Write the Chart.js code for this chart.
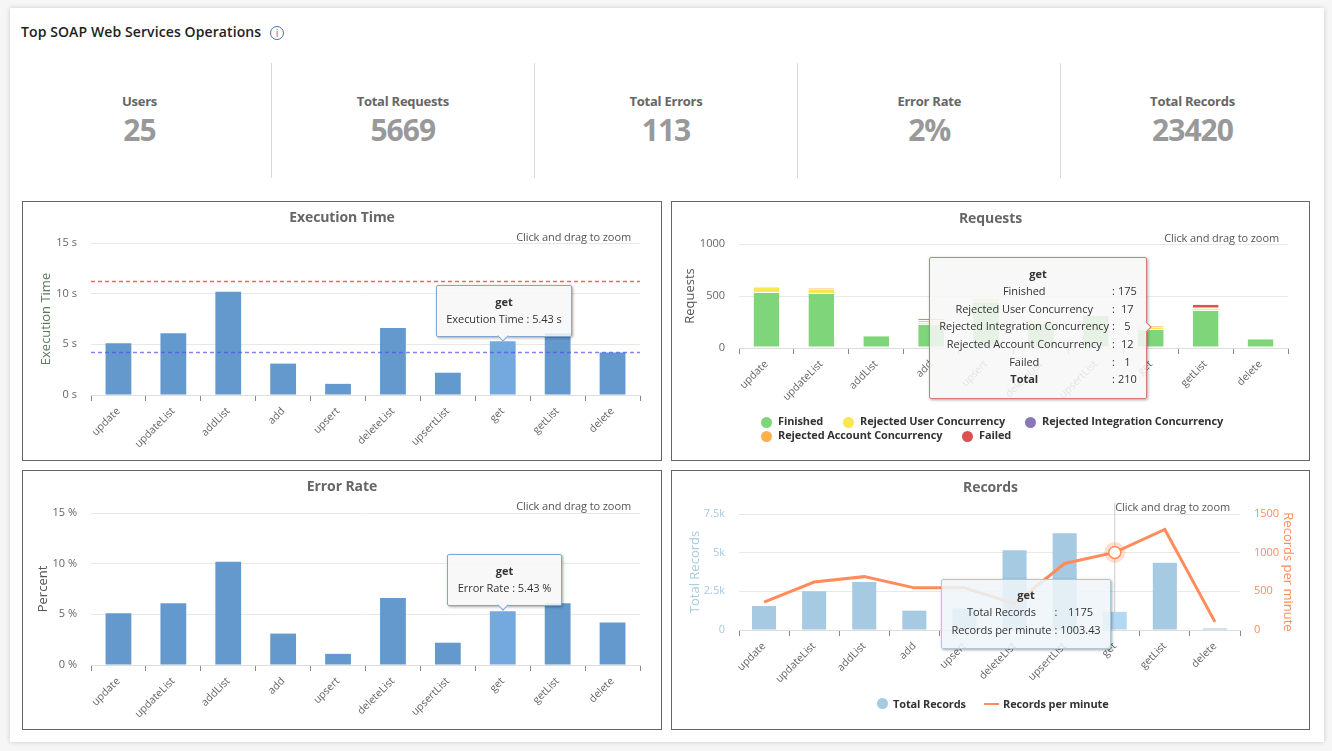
<!DOCTYPE html>
<html>
<head>
<meta charset="utf-8">
<title>Top SOAP Web Services Operations</title>
<script src="https://cdn.jsdelivr.net/npm/chart.js@4/dist/chart.umd.min.js"></script>
<style>
  html, body { margin: 0; padding: 0; background: #f6f6f6; font-family: "Open Sans", sans-serif; overflow: hidden; }
  #card { position: absolute; left: 10px; top: 8px; width: 1314px; height: 734px; background: #fff; box-shadow: 0 0 5px rgba(0,0,0,.18); }
  #heading { position: absolute; left: 21px; top: 22px; font-size: 14px; font-weight: 600; color: #222; letter-spacing: .1px; }
  #info { position: absolute; left: 270px; top: 26px; width: 12px; height: 12px; border: 1px solid #4a6fa5; border-radius: 50%; font-size: 10px; line-height: 12px; text-align: center; color: #4a6fa5; }
  .stat { position: absolute; top: 92px; width: 263px; text-align: center; }
  .stat .name { font-size: 13px; font-weight: 700; color: #666; line-height: 18px; letter-spacing: -.25px; }
  .stat .val { font-size: 30px; font-weight: 700; color: #999; line-height: 40px; letter-spacing: -1px; }
  .divider { position: absolute; top: 63px; width: 1px; height: 115px; background: #d8d8d8; }
  .panel { position: absolute; width: 638px; height: 258px; border: 1px solid #666; background: #fff; }
  .panel.right { width: 637px; }
  .panel canvas { position: absolute; left: -1px; top: -1px; }
  .ptitle { position: absolute; left: 0; right: 0; top: 5px; text-align: center; font-size: 14px; font-weight: 700; color: #666; letter-spacing: -.1px; }
  .hint { position: absolute; font-size: 11px; color: #555; white-space: nowrap; letter-spacing: -.1px; }
  .tip { position: absolute; background: rgba(247,247,247,.86); border: 1px solid #7fa8d0; border-radius: 2px; box-shadow: 1px 1px 3px rgba(0,0,0,.35); font-size: 11px; color: #333; text-align: center; z-index: 5; box-sizing: border-box; letter-spacing: -.05px; }
  .tip b { display: block; font-weight: 700; }
  .tip table { border-collapse: collapse; margin: 0 auto; }
  .tip td { padding: 0; height: 17.6px; white-space: nowrap; }
  .arrow { position: absolute; width: 7px; height: 7px; background: #f7f7f7; transform: rotate(45deg); }
  .legend { position: absolute; font-size: 11px; font-weight: 700; color: #333; white-space: nowrap; letter-spacing: -.12px; }
  .legend span.item { position: absolute; }
  .legend i { position: absolute; width: 11px; height: 11px; border-radius: 50%; }
  .legend i.dash { height: 2px; width: 15px; border-radius: 0; }
</style>
</head>
<body>
<div id="card"></div>
<div id="heading">Top SOAP Web Services Operations</div>
<div id="info">i</div>
<div id="stats"></div>

<div class="panel" style="left:22px;top:201px">
  <canvas id="execChart" width="640" height="260"></canvas>
  <div class="ptitle">Execution Time</div>
  <div class="hint" style="right:30px;top:27px">Click and drag to zoom</div>
  <div class="tip" id="execTip" style="left:413px;top:83px;width:136px;height:52px;padding-top:8px"></div>
</div>
<div class="panel right" style="left:671px;top:201px">
  <canvas id="reqChart" width="639" height="260"></canvas>
  <div class="ptitle" style="top:6px">Requests</div>
  <div class="hint" style="right:30px;top:28px">Click and drag to zoom</div>
  <div class="tip" id="reqTip" style="left:257px;top:55px;width:218px;height:142px;padding-top:8px;border-color:#d87878"></div>
  <div class="legend" id="reqLegend" style="left:0;top:0"></div>
</div>
<div class="panel" style="left:22px;top:470px">
  <canvas id="errChart" width="640" height="260"></canvas>
  <div class="ptitle">Error Rate</div>
  <div class="hint" style="right:30px;top:27px">Click and drag to zoom</div>
  <div class="tip" id="errTip" style="left:424px;top:83px;width:115px;height:52px;padding-top:8px"></div>
</div>
<div class="panel right" style="left:671px;top:470px">
  <canvas id="recChart" width="639" height="260"></canvas>
  <div class="ptitle" style="top:6px">Records</div>
  <div class="hint" style="right:79px;top:28px">Click and drag to zoom</div>
  <div class="tip" id="recTip" style="left:269px;top:108px;width:170px;height:70px;padding-top:7px;border-color:#a9c9de;background:rgba(238,244,248,.86)"></div>
  <div class="legend" id="recLegend" style="left:0;top:0"></div>
</div>

<script>
const statNames = ["Users", "Total Requests", "Total Errors", "Error Rate", "Total Records"];
const statValues = ["25", "5669", "113", "2%", "23420"];

const operations = ["update", "updateList", "addList", "add", "upsert", "deleteList", "upsertList", "get", "getList", "delete"];

const execTime = [5.1, 6.1, 10.2, 3.1, 1.1, 6.6, 2.2, 5.3, 6.1, 4.2];
const execLimits = [11.2, 4.2];
const errorRate = [5.1, 6.1, 10.2, 3.1, 1.1, 6.6, 2.2, 5.3, 6.1, 4.2];

const finished = [530, 520, 112, 223, 440, 235, 310, 175, 359, 85];
const rejectedUser = [55, 45, 0, 20, 30, 23, 0, 17, 20, 0];
const rejectedIntegration = [0, 0, 0, 0, 0, 0, 0, 5, 0, 0];
const rejectedAccount = [0, 10, 0, 18, 0, 0, 0, 12, 0, 0];
const failed = [0, 0, 0, 20, 0, 0, 0, 1, 38, 0];

const totalRecords = [1550, 2500, 3100, 1250, 1400, 5150, 6250, 1175, 4350, 100];
const recordsPerMinute = [360, 620, 690, 545, 545, 340, 860, 1003.43, 1300, 105];

const hoverIndex = 7;

const BAR_BLUE = "#6499cd";
const BAR_BLUE_HOVER = "#74a9df";
const TEXT_GREY = "#666";
const TICK_FONT = { family: "Open Sans", size: 11 };
const TITLE_FONT = { family: "Open Sans", size: 13 };

// draws the dashed limits, the crosshair and the marker halo through the scales
const overlayPlugin = {
  id: "overlay",
  beforeDatasetsDraw(chart, args, opts) {
    const ctx = chart.ctx;
    const area = chart.chartArea;
    if (opts.crossIndex !== undefined) {
      const x = chart.scales.x.getPixelForValue(opts.crossIndex);
      ctx.save();
      ctx.strokeStyle = "#ccc";
      ctx.beginPath();
      ctx.moveTo(x, area.top - 11);
      ctx.lineTo(x, area.bottom);
      ctx.stroke();
      ctx.restore();
    }
  },
  afterDatasetsDraw(chart, args, opts) {
    const ctx = chart.ctx;
    const area = chart.chartArea;
    (opts.lines || []).forEach(l => {
      const y = chart.scales.y.getPixelForValue(l.value);
      ctx.save();
      ctx.strokeStyle = l.color;
      ctx.lineWidth = 1.5;
      ctx.setLineDash([4, 3]);
      ctx.beginPath();
      ctx.moveTo(area.left, y);
      ctx.lineTo(area.right, y);
      ctx.stroke();
      ctx.restore();
    });
    if (opts.crossIndex !== undefined) {
      const pt = chart.getDatasetMeta(1).data[opts.crossIndex];
      ctx.save();
      ctx.strokeStyle = "rgba(255,140,90,.28)";
      ctx.lineWidth = 4;
      ctx.beginPath();
      ctx.arc(pt.x, pt.y, 8.5, 0, Math.PI * 2);
      ctx.stroke();
      ctx.restore();
    }
  }
};

function xAxis(height) {
  return {
    offset: true,
    grid: { offset: true, drawOnChartArea: false, tickLength: 6, tickColor: "#888" },
    border: { color: "#ddd" },
    ticks: { color: TEXT_GREY, font: { family: "Open Sans", size: 10.5 }, minRotation: 45, maxRotation: 45, autoSkip: false, padding: 4 },
    afterFit(axis) { axis.height = height; }
  };
}

function yAxis(width, max, step, title, fmt, color, titleColor) {
  return {
    min: 0,
    max,
    grid: { color: "#e8e8e8", drawTicks: false },
    border: { display: false },
    ticks: { stepSize: step, color, font: TICK_FONT, padding: 14, callback: fmt },
    title: { display: true, text: title, color: titleColor, font: TITLE_FONT, padding: 0 },
    afterFit(axis) { axis.width = width; }
  };
}

function barColors() {
  return operations.map((_, i) => i === hoverIndex ? BAR_BLUE_HOVER : BAR_BLUE);
}

function singleBarChart(id, label, values, fmt, axisTitle, titleColor, top, left, lines) {
  return new Chart(document.getElementById(id), {
    type: "bar",
    data: {
      labels: operations,
      datasets: [{ label, data: values, backgroundColor: barColors(), borderWidth: 0, barPercentage: 0.47, categoryPercentage: 1 }]
    },
    options: {
      responsive: false,
      animation: false,
      layout: { padding: { left, right: 22, top, bottom: 0 } },
      plugins: { legend: { display: false }, tooltip: { enabled: false }, overlay: { lines } },
      scales: {
        x: xAxis(260 - top - 152),
        y: yAxis(69 - left, 15, 5, axisTitle, fmt, TEXT_GREY, titleColor)
      }
    },
    plugins: [overlayPlugin]
  });
}

singleBarChart("execChart", "Execution Time", execTime, v => v + " s", "Execution Time", "#5a7a5a", 42, 16, [
  { value: execLimits[0], color: "rgba(255,80,80,.9)" },
  { value: execLimits[1], color: "rgba(80,80,240,.7)" }
]);
singleBarChart("errChart", "Error Rate", errorRate, v => v + " %", "Percent", "#555", 43, 13, []);

const requestSeries = [
  { label: "Finished", data: finished, color: "#7fd67a" },
  { label: "Rejected User Concurrency", data: rejectedUser, color: "#f7e84f" },
  { label: "Rejected Integration Concurrency", data: rejectedIntegration, color: "#8878b8" },
  { label: "Rejected Account Concurrency", data: rejectedAccount, color: "#fbb04e" },
  { label: "Failed", data: failed, color: "#db5054" }
];

new Chart(document.getElementById("reqChart"), {
  type: "bar",
  data: {
    labels: operations,
    datasets: requestSeries.map(s => ({
      label: s.label, data: s.data, backgroundColor: s.color, borderColor: "#fff",
      borderWidth: { top: 0, left: 0, right: 0, bottom: 1 }, borderSkipped: false,
      barPercentage: 0.47, categoryPercentage: 1
    }))
  },
  options: {
    responsive: false,
    animation: false,
    layout: { padding: { left: 11, right: 22, top: 43, bottom: 0 } },
    plugins: { legend: { display: false }, tooltip: { enabled: false } },
    scales: {
      x: { ...xAxis(113), stacked: true },
      y: { ...yAxis(57, 1000, 500, "Requests", v => v, TEXT_GREY, "#555"), stacked: true }
    }
  }
});

const recordPoints = operations.map((_, i) => i === hoverIndex ? 6 : 0);

new Chart(document.getElementById("recChart"), {
  data: {
    labels: operations,
    datasets: [
      { type: "bar", label: "Total Records", data: totalRecords, yAxisID: "y", order: 2,
        backgroundColor: operations.map((_, i) => i === hoverIndex ? "#b3d8f2" : "#a5cae2"), barPercentage: 0.48, categoryPercentage: 1 },
      { type: "line", label: "Records per minute", data: recordsPerMinute, yAxisID: "y2", order: 1,
        borderColor: "#ff8c5a", borderWidth: 3, tension: 0, pointRadius: recordPoints,
        pointBackgroundColor: "#fff", pointBorderColor: "#ff8c5a", pointBorderWidth: 1.5 }
    ]
  },
  options: {
    responsive: false,
    animation: false,
    layout: { padding: { left: 16, right: 14, top: 44, bottom: 0 } },
    plugins: { legend: { display: false }, tooltip: { enabled: false }, overlay: { crossIndex: hoverIndex } },
    scales: {
      x: xAxis(100),
      y: yAxis(52, 7500, 2500, "Total Records", v => v === 0 ? "0" : (v / 1000) + "k", "#a5cae2", "#a5cae2"),
      y2: { ...yAxis(56, 1500, 500, "Records per minute", v => v, "#ff8c5a", "#ff8c5a"), position: "right", grid: { display: false, drawTicks: false } }
    }
  },
  plugins: [overlayPlugin]
});

// stat row
document.getElementById("stats").innerHTML = statNames.map((n, i) =>
  `<div class="stat" style="left:${8 + i * 263.25}px"><div class="name">${n}</div><div class="val">${statValues[i]}</div></div>` +
  (i ? `<div class="divider" style="left:${Math.round(8 + i * 263.1)}px"></div>` : "")
).join("");

// tooltips
function simpleTip(id, name, value, arrowLeft) {
  document.getElementById(id).innerHTML =
    `<b>${operations[hoverIndex]}</b><div style="margin-top:2px">${name} : ${value}</div>` +
    `<div class="arrow" style="left:${arrowLeft}px;bottom:-4px;border-right:1px solid #7fa8d0;border-bottom:1px solid #7fa8d0"></div>`;
}
simpleTip("execTip", "Execution Time", "5.43 s", 62);
simpleTip("errTip", "Error Rate", "5.43 %", 51);

const reqRows = requestSeries.map(s => `<tr><td>${s.label}</td><td style="padding:0 3px">:</td><td>${s.data[hoverIndex]}</td></tr>`).join("");
const reqTotal = requestSeries.reduce((sum, s) => sum + s.data[hoverIndex], 0);
document.getElementById("reqTip").innerHTML =
  `<b>${operations[hoverIndex]}</b><table style="margin-top:1px">${reqRows}<tr><td><b>Total</b></td><td>:</td><td>${reqTotal}</td></tr></table>` +
  `<div class="arrow" style="right:-4px;top:65px;border-right:1px solid #d87878;border-top:1px solid #d87878"></div>`;

document.getElementById("recTip").innerHTML =
  `<b>${operations[hoverIndex]}</b><table style="margin-top:1px">` +
  `<tr><td>Total Records</td><td style="padding:0 3px">:</td><td>${totalRecords[hoverIndex]}</td></tr>` +
  `<tr><td>Records per minute</td><td style="padding:0 3px">:</td><td>${recordsPerMinute[hoverIndex]}</td></tr></table>`;

// legends
const legendSpots = [[90, 213], [172, 213], [354, 213], [90, 227], [291, 227]];
document.getElementById("reqLegend").innerHTML = requestSeries.map((s, i) => {
  const [x, y] = legendSpots[i];
  return `<i style="left:${x - 1}px;top:${y + 2}px;background:${s.color}"></i><span class="item" style="left:${x + 16}px;top:${y - 2}px">${s.label}</span>`;
}).join("");
document.getElementById("recLegend").innerHTML =
  `<i style="left:205px;top:227px;background:#a5cae2"></i><span class="item" style="left:221px;top:225px">Total Records</span>` +
  `<i class="dash" style="left:312px;top:232px;background:#ff8c5a"></i><span class="item" style="left:331px;top:225px">Records per minute</span>`;
</script>
</body>
</html>
